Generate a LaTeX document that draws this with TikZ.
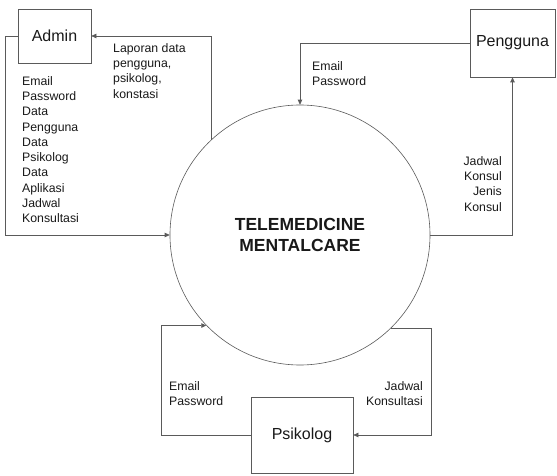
\documentclass[tikz,border=0pt]{standalone}
\usepackage{fontspec}
\setmainfont{Liberation Sans}
\usetikzlibrary{arrows.meta}
\definecolor{linegray}{HTML}{5A5A5A}
\begin{document}
\begin{tikzpicture}[x=1pt,y=-1pt,
  every node/.style={text=black!90},
  entity/.style={draw=linegray, line width=0.7pt, rectangle, inner sep=0pt, font=\fontsize{16}{19}\selectfont},
  process/.style={draw=linegray, line width=0.6pt, circle, inner sep=0pt, minimum size=260pt, align=center, font=\fontsize{17.5}{21}\selectfont\bfseries},
  flow/.style={draw=linegray, line width=0.7pt, -{Triangle[length=5pt,width=4.5pt]}},
  lbl/.style={inner sep=0pt, font=\fontsize{12.3}{15.3}\selectfont}
]
\useasboundingbox (0,0) rectangle (557,476);

\node[process] (c) at (300,235) {TELEMEDICINE\\MENTALCARE};

\node[entity, minimum width=73pt, minimum height=54pt] (admin) at (54.5,36) {Admin};
\node[entity, minimum width=85pt, minimum height=68pt] (peng) at (512.5,43) {Pengguna};
\node[entity, minimum width=102pt, minimum height=76pt] (psi) at (302,435) {Psikolog};

% Admin flows
\draw[flow] (admin.west) -- ++(-12,0) |- (c.180);
\draw[flow] (c.133) |- (admin.east);

% Pengguna flows
\draw[flow] (peng.west) -| (c.north);
\draw[flow] (c.east) -| (peng.south);

% Psikolog flows
\draw[flow] (psi.west) -- ++(-89,0) |- (c.224);
\draw[flow] (c.314) -- ++(41,0) |- (psi.east);

% Labels
\node[lbl, anchor=north west, align=left] (l1) at (113,43) {Laporan data\\pengguna,\\psikolog,\\konstasi};
\node[lbl, anchor=north west, align=left] (l2) at (22,76) {Email\\Password\\Data\\Pengguna\\Data\\Psikolog\\Data\\Aplikasi\\Jadwal\\Konsultasi};
\node[lbl, anchor=north west, align=left] (l3) at (312,61) {Email\\Password};
\node[lbl, anchor=north east, align=right] (l4) at (502,156) {Jadwal\\Konsul\\Jenis\\Konsul};
\node[lbl, anchor=north west, align=left] (l5) at (169,381) {Email\\Password};
\node[lbl, anchor=north east, align=right] (l6) at (423,381) {Jadwal\\Konsultasi};
\end{tikzpicture}
\end{document}
